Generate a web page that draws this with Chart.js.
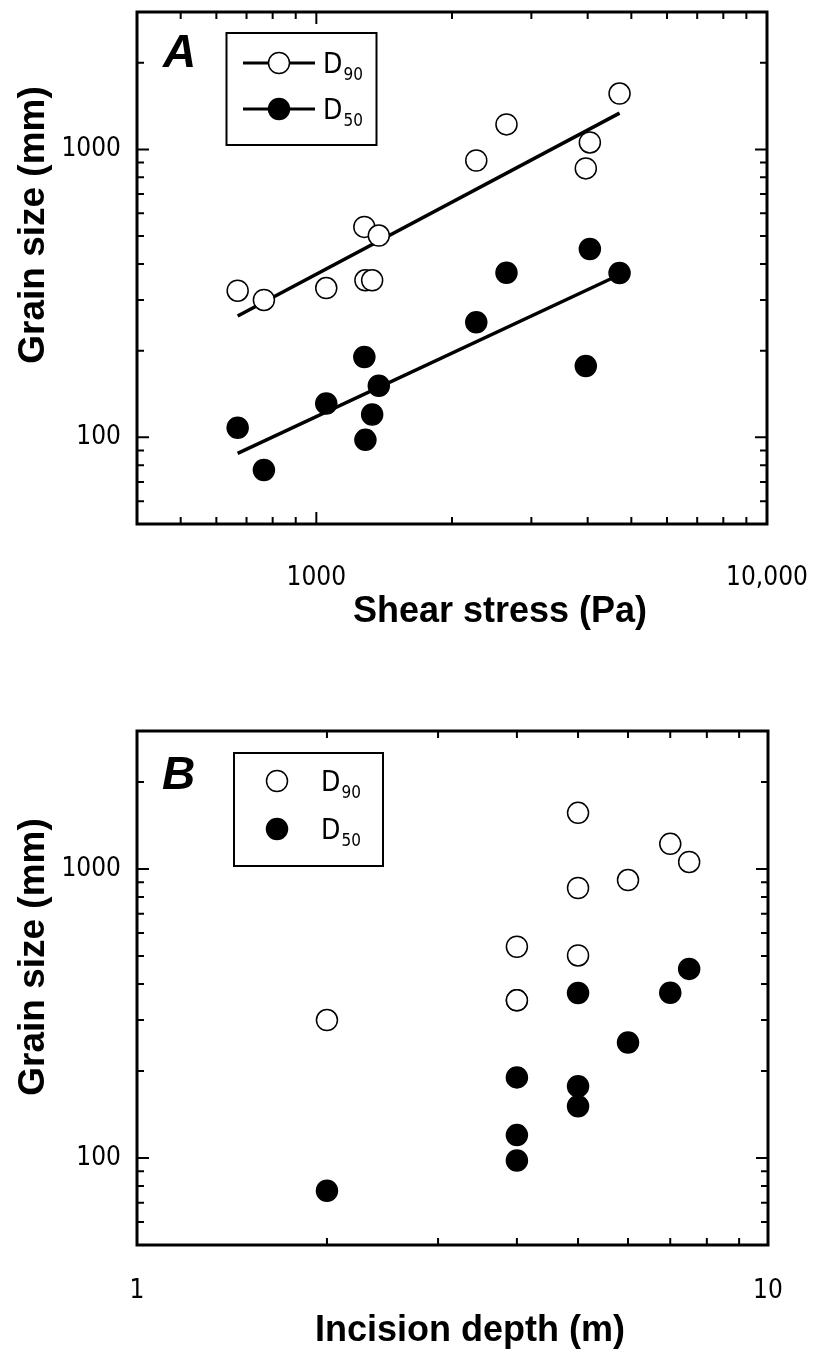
<!DOCTYPE html>
<html>
<head>
<meta charset="utf-8">
<title>Grain size vs shear stress and incision depth</title>
<script src="https://cdn.jsdelivr.net/npm/chart.js@4/dist/chart.umd.min.js"></script>
<style>
    html, body { margin: 0; padding: 0; background: #fff; }
    #wrap { position: relative; width: 820px; height: 1353px; }
    canvas { position: absolute; left: 0; }
    #chartA { top: 0; }
    #chartB { top: 680px; }
</style>
</head>
<body>
<div id="wrap">
    <canvas id="chartA" width="820" height="680"></canvas>
    <canvas id="chartB" width="820" height="673"></canvas>
</div>
<script>
// samples (one entry per site)
const shearStress = [669, 765, 1052, 1278, 1285, 1330, 1376, 2264, 2642, 3962, 4045, 4708];
const incisionDepth = [null, 2, null, 4, 4, 4, 5, 6, 7, 5, 7.5, 5];
const d90 = [323, 300, 330, 538, 351, 351, 502, 915, 1221, 859, 1057, 1563];
const d50 = [108, 77, 131, 190, 98, 120, 151, 251, 373, 177, 451, 372];

// fitted lines in panel A (end points)
const fitShear = [669, 4708];
const fitD90 = [264, 1336];
const fitD50 = [88, 367];

// axes
const shearRange = [400, 10000];
const depthRange = [1, 10];
const grainRange = [50, 3000];
const shearTicks = [1000, 10000];
const shearTickLabels = ["1000", "10,000"];
const depthTicks = [1, 10];
const depthTickLabels = ["1", "10"];
const grainTicks = [100, 1000];
const grainTickLabels = ["100", "1000"];

const FONT = "'Liberation Sans', Arial, Helvetica, sans-serif";
const NARROW = "'Liberation Sans Narrow', 'Arial Narrow', 'DejaVu Sans Condensed', sans-serif";

function points(xs, ys) {
    const out = [];
    xs.forEach((x, i) => {
        if (x != null && ys[i] != null) out.push({ x: x, y: ys[i] });
    });
    return out;
}

// 1..9 x 10^n ticks between min and max
function logTicks(min, max) {
    const ticks = [];
    for (let e = Math.floor(Math.log10(min)); e <= Math.ceil(Math.log10(max)); e++) {
        for (let d = 1; d <= 9; d++) {
            const v = Number((d * Math.pow(10, e)).toPrecision(6));
            if (v >= min && v <= max) ticks.push({ value: v });
        }
    }
    return ticks;
}

function isDecade(v) {
    const l = Math.log10(v);
    return Math.abs(l - Math.round(l)) < 1e-6;
}

function logAxis(range, tickVals, tickLabels, pad, size, horizontal) {
    return {
        type: "logarithmic",
        min: range[0],
        max: range[1],
        grid: { display: false, drawTicks: false },
        border: { display: false },
        afterBuildTicks: (scale) => {
            scale.ticks = logTicks(scale.min, scale.max);
        },
        afterFit: (scale) => {
            if (horizontal) scale.height = size;
            else scale.width = size;
            scale.paddingLeft = scale.paddingRight = scale.paddingTop = scale.paddingBottom = 0;
        },
        ticks: {
            autoSkip: false,
            maxRotation: 0,
            padding: pad,
            color: "#000",
            font: { family: NARROW, size: 26 },
            callback: (v) => {
                const i = tickVals.indexOf(v);
                return i >= 0 ? tickLabels[i] : "";
            }
        }
    };
}

// frame, inward ticks, panel letter, legend and axis titles
const panelPlugin = {
    id: "panel",
    afterDraw(chart, args, opts) {
        const ctx = chart.ctx;
        const a = chart.chartArea;
        ctx.save();
        ctx.strokeStyle = "#000";
        ctx.fillStyle = "#000";

        // ticks
        ctx.lineWidth = 2;
        const xs = chart.scales.x, ys = chart.scales.y;
        xs.ticks.forEach((t) => {
            const p = xs.getPixelForValue(t.value);
            if (p <= a.left + 1 || p >= a.right - 1) return;
            const len = isDecade(t.value) ? 12 : 7;
            ctx.beginPath();
            ctx.moveTo(p, a.bottom); ctx.lineTo(p, a.bottom - len);
            ctx.moveTo(p, a.top); ctx.lineTo(p, a.top + len);
            ctx.stroke();
        });
        ys.ticks.forEach((t) => {
            const p = ys.getPixelForValue(t.value);
            if (p <= a.top + 1 || p >= a.bottom - 1) return;
            const len = isDecade(t.value) ? 12 : 7;
            ctx.beginPath();
            ctx.moveTo(a.left, p); ctx.lineTo(a.left + len, p);
            ctx.moveTo(a.right, p); ctx.lineTo(a.right - len, p);
            ctx.stroke();
        });

        // frame
        ctx.lineWidth = 3;
        ctx.strokeRect(a.left, a.top, a.right - a.left, a.bottom - a.top);

        // panel letter
        ctx.font = "italic bold 46px " + FONT;
        ctx.textAlign = "left";
        ctx.textBaseline = "alphabetic";
        ctx.fillText(opts.letter, opts.letterX, opts.letterY);

        // legend
        const lg = opts.legend;
        ctx.lineWidth = 2;
        ctx.strokeRect(lg.x, lg.y, lg.w, lg.h);
        lg.rows.forEach((r) => {
            if (lg.line) {
                ctx.lineWidth = 3;
                ctx.beginPath();
                ctx.moveTo(lg.lineFrom, r.y);
                ctx.lineTo(lg.lineTo, r.y);
                ctx.stroke();
            }
            ctx.beginPath();
            ctx.arc(lg.markerX, r.y, 10.5, 0, Math.PI * 2);
            ctx.fillStyle = r.filled ? "#000" : "#fff";
            ctx.fill();
            ctx.lineWidth = 1.5;
            ctx.stroke();
            ctx.fillStyle = "#000";
            ctx.font = "28px " + NARROW;
            ctx.fillText("D", lg.textX, r.y + 10);
            const w = ctx.measureText("D").width;
            ctx.font = "17px " + NARROW;
            ctx.fillText(r.sub, lg.textX + w + 1, r.y + 17);
        });

        // axis titles
        ctx.font = "bold 36px " + FONT;
        ctx.textAlign = "center";
        ctx.textBaseline = "middle";
        ctx.fillText(opts.xTitle.text, opts.xTitle.x, opts.xTitle.y);
        ctx.translate(opts.yTitle.x, opts.yTitle.y);
        ctx.rotate(-Math.PI / 2);
        ctx.font = "bold 37px " + FONT;
        ctx.fillText(opts.yTitle.text, 0, 0);
        ctx.restore();
    }
};

function openSeries(data) {
    return {
        data: data, order: 1,
        pointRadius: 10.5, pointHoverRadius: 10.5,
        pointBackgroundColor: "#fff", pointBorderColor: "#000", pointBorderWidth: 1.5,
        backgroundColor: "#fff", borderColor: "#000"
    };
}

function filledSeries(data) {
    return {
        data: data, order: 1,
        pointRadius: 10.5, pointHoverRadius: 10.5,
        pointBackgroundColor: "#000", pointBorderColor: "#000", pointBorderWidth: 1.5,
        backgroundColor: "#000", borderColor: "#000"
    };
}

function fitSeries(data) {
    return {
        data: data, order: 2, showLine: true,
        borderColor: "#000", borderWidth: 3.5, pointRadius: 0, fill: false
    };
}

// Panel A: grain size vs shear stress
new Chart(document.getElementById("chartA"), {
    type: "scatter",
    data: {
        datasets: [
            fitSeries(points(fitShear, fitD90)),
            fitSeries(points(fitShear, fitD50)),
            openSeries(points(shearStress, d90)),
            filledSeries(points(shearStress, d50))
        ]
    },
    options: {
        responsive: false,
        animation: false,
        events: [],
        layout: { padding: { left: 0, top: 11, right: 53, bottom: 56 } },
        scales: {
            x: logAxis(shearRange, shearTicks, shearTickLabels, 39, 100, true),
            y: logAxis(grainRange, grainTicks, grainTickLabels, 16, 137, false)
        },
        plugins: {
            legend: { display: false },
            tooltip: { enabled: false },
            panel: {
                letter: "A", letterX: 163, letterY: 67,
                legend: {
                    x: 226.5, y: 33, w: 150, h: 112, line: true,
                    lineFrom: 243, lineTo: 315, markerX: 279, textX: 323,
                    rows: [{ y: 63, filled: false, sub: "90" }, { y: 109, filled: true, sub: "50" }]
                },
                xTitle: { text: "Shear stress (Pa)", x: 500, y: 612 },
                yTitle: { text: "Grain size (mm)", x: 34, y: 225 }
            }
        }
    },
    plugins: [panelPlugin]
});

// Panel B: grain size vs incision depth
new Chart(document.getElementById("chartB"), {
    type: "scatter",
    data: {
        datasets: [
            openSeries(points(incisionDepth, d90)),
            filledSeries(points(incisionDepth, d50))
        ]
    },
    options: {
        responsive: false,
        animation: false,
        events: [],
        layout: { padding: { left: 0, top: 51, right: 52, bottom: 8 } },
        scales: {
            x: logAxis(depthRange, depthTicks, depthTickLabels, 31, 100, true),
            y: logAxis(grainRange, grainTicks, grainTickLabels, 16, 137, false)
        },
        plugins: {
            legend: { display: false },
            tooltip: { enabled: false },
            panel: {
                letter: "B", letterX: 162, letterY: 109,
                legend: {
                    x: 234, y: 73, w: 149, h: 113, line: false,
                    markerX: 277, textX: 321,
                    rows: [{ y: 101, filled: false, sub: "90" }, { y: 149, filled: true, sub: "50" }]
                },
                xTitle: { text: "Incision depth (m)", x: 470, y: 651 },
                yTitle: { text: "Grain size (mm)", x: 34, y: 277 }
            }
        }
    },
    plugins: [panelPlugin]
});
</script>
</body>
</html>
